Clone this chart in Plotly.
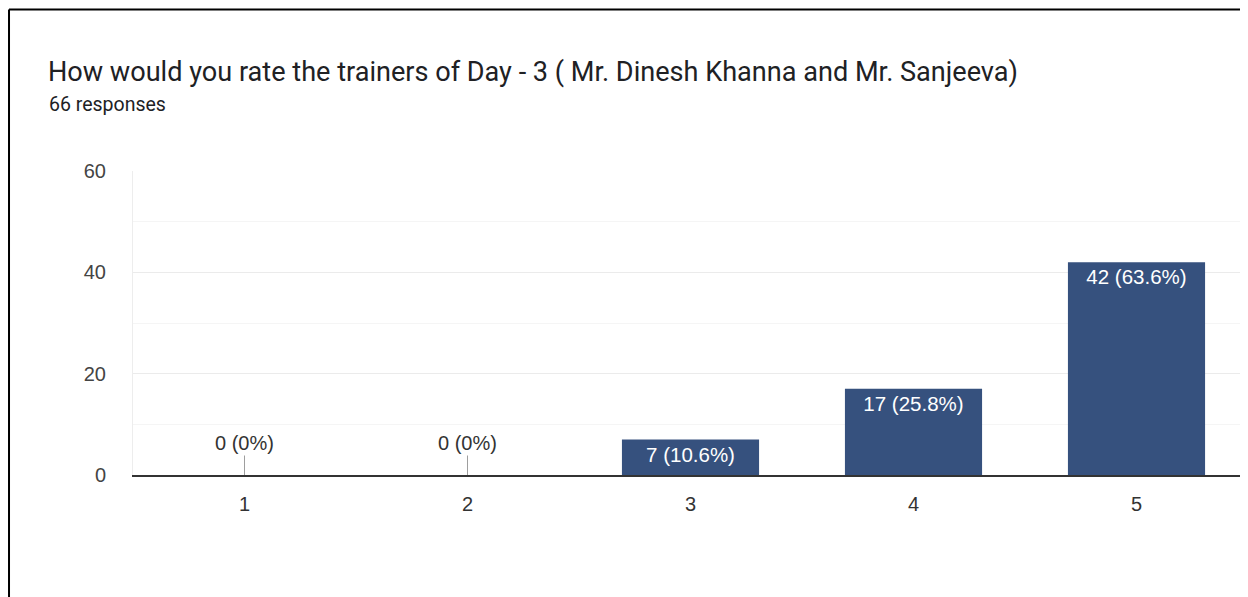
import plotly.graph_objects as go

# survey data
ratings = ['1', '2', '3', '4', '5']
counts = [0, 0, 7, 17, 42]
percents = ['0%', '0%', '10.6%', '25.8%', '63.6%']
total_responses = 66
title = "How would you rate the trainers of Day - 3 ( Mr. Dinesh Khanna and Mr. Sanjeeva)"

bar_color = '#36517e'
title_font = 'Roboto, Arial, sans-serif'
chart_font = 'Liberation Sans, Arial, sans-serif'

labels = [f'{c} ({p})' for c, p in zip(counts, percents)]

fig = go.Figure()
fig.add_trace(go.Bar(
    x=ratings, y=counts,
    marker=dict(color=bar_color, line=dict(width=0)),
    text=[l if c > 0 else '' for l, c in zip(labels, counts)],
    textposition='inside', insidetextanchor='end',
    textfont=dict(color='white', size=20.5, family=chart_font),
    width=0.615,
    hoverinfo='skip',
))

# zero-count bars get a label sitting on a little stem
for i, (c, l) in enumerate(zip(counts, labels)):
    if c == 0:
        fig.add_annotation(x=i, y=0, text=l, showarrow=True, arrowhead=0,
                           arrowwidth=1, arrowcolor='#9e9e9e', ax=0, ay=-32,
                           font=dict(size=20, color='#333333', family=chart_font))

fig.add_annotation(xref='paper', yref='paper', x=-0.0779, y=1.327,
                   xanchor='left', yanchor='middle', showarrow=False,
                   text=title, font=dict(size=27.1, color='#202124', family=title_font))
fig.add_annotation(xref='paper', yref='paper', x=-0.0773, y=1.219,
                   xanchor='left', yanchor='middle', showarrow=False,
                   text=f'{total_responses} responses',
                   font=dict(size=19.5, color='#202124', family=title_font))

# screenshot frame
fig.add_shape(type='line', xref='paper', yref='paper', x0=-0.1112, x1=-0.1112,
              y0=1.5313, y1=-0.6, line=dict(color='black', width=2))
fig.add_shape(type='line', xref='paper', yref='paper', x0=-0.1112, x1=1.2,
              y0=1.5313, y1=1.5313, line=dict(color='black', width=2))

fig.update_xaxes(
    type='category', range=[-0.5, 4.5],
    showline=True, linecolor='#333333', linewidth=1.5,
    showgrid=False, ticks='', ticklabelstandoff=10,
    tickfont=dict(size=20, color='#333333', family=chart_font),
)
fig.update_yaxes(
    range=[0, 60], dtick=20, showgrid=True, gridcolor='#ebebeb', gridwidth=1,
    minor=dict(dtick=10, showgrid=True, gridcolor='#f5f5f5'),
    showline=True, linecolor='#ededed', linewidth=1,
    zeroline=False, ticks='', ticklabelstandoff=22,
    tickfont=dict(size=20, color='#444444', family=chart_font),
)

# the page body adds an 8px offset, so margins are shifted to compensate
fig.update_layout(
    width=1248, height=597,
    margin=dict(l=125, r=7.5, t=163, b=130),
    plot_bgcolor='white', paper_bgcolor='white',
    showlegend=False, bargap=0.385,
)

# keep the body from scrolling so the right edge isn't eaten by a scrollbar
fig.write_html("out.html", post_script="document.body.style.overflow='hidden';")
